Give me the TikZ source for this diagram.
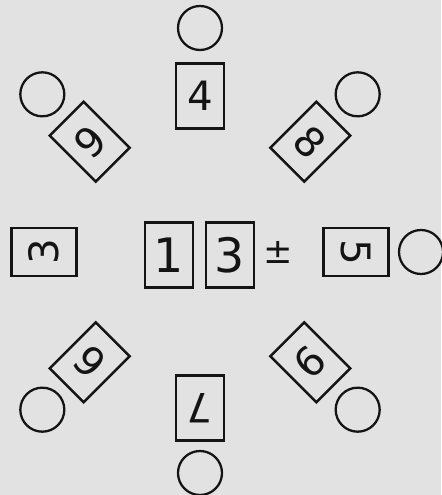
\documentclass[tikz,border=0pt]{standalone}
\usepackage{fontspec}
\setmainfont{DejaVu Sans}
\usepackage{xcolor}
\definecolor{paper}{RGB}{226,226,226}
\definecolor{ink}{RGB}{20,20,20}

\begin{document}
\begin{tikzpicture}[
    card/.style={draw=ink, line width=1.4pt, minimum width=0.96cm, minimum height=1.3cm, inner sep=0pt, anchor=center, text=ink, font=\fontsize{23}{23}\selectfont},
    bigcard/.style={card, font=\fontsize{27}{27}\selectfont},
    slot/.style={draw=ink, circle, line width=1.3pt, minimum size=0.88cm, inner sep=0pt}]
\fill[paper] (-4.0,5.04) rectangle (4.82,-4.86);
\useasboundingbox (-4.0,5.04) rectangle (4.82,-4.86);

\node[card] (c4) at (90:3.12) {4};
\node[card, rotate=-45] (c8) at (45:3.12) {8};
\node[card, rotate=-90] (c5) at (0:3.12) {5};
\node[card, rotate=-135] (c9) at (-45:3.12) {9};
\node[card, rotate=180] (c7) at (-90:3.12) {7};
\node[card, rotate=135] (c6) at (-135:3.12) {6};
\node[card, rotate=90] (c3) at (180:3.12) {3};
\node[card, rotate=45] (c9b) at (135:3.12) {9};

\node[slot] (s4) at (90:4.48) {};
\node[slot] (s8) at (45:4.46) {};
\node[slot] (s5) at (0:4.42) {};
\node[slot] (s9) at (-45:4.46) {};
\node[slot] (s7) at (-90:4.42) {};
\node[slot] (s6) at (-135:4.46) {};
\node[slot] (s9b) at (135:4.46) {};

\node[bigcard] (m1) at (-0.62,-0.06) {1};
\node[bigcard] (m3) at (0.6,-0.06) {3};
\node[text=ink, font=\fontsize{20}{20}\selectfont] (pm) at (1.56,0) {±};
\end{tikzpicture}
\end{document}
